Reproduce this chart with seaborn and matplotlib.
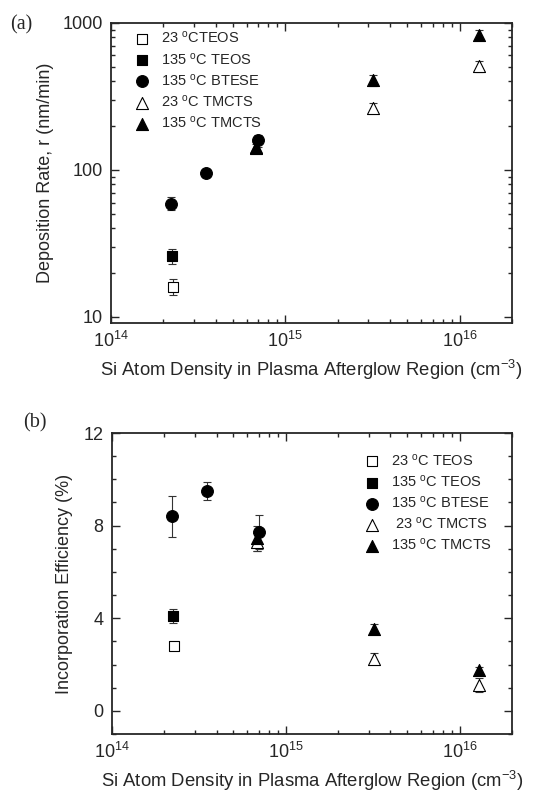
import numpy as np
import pandas as pd
import seaborn as sns
import matplotlib.pyplot as plt
from matplotlib.ticker import FixedLocator, MultipleLocator, FixedFormatter

# ---- data ----
series = ["23C TEOS", "135C TEOS", "135C BTESE", "23C TMCTS", "135C TMCTS"]
labels_a = ["23 $^\\mathregular{o}$CTEOS", "135 $^\\mathregular{o}$C TEOS", "135 $^\\mathregular{o}$C BTESE",
            "23 $^\\mathregular{o}$C TMCTS", "135 $^\\mathregular{o}$C TMCTS"]
labels_b = ["23 $^\\mathregular{o}$C TEOS", "135 $^\\mathregular{o}$C TEOS", "135 $^\\mathregular{o}$C BTESE",
            " 23 $^\\mathregular{o}$C TMCTS", "135 $^\\mathregular{o}$C TMCTS"]

teos23_x = [2.27e14]
teos135_x = [2.25e14]
btese_x = [2.2e14, 3.5e14, 7.0e14]
tmcts23_x = [6.8e14, 3.2e15, 1.3e16]
tmcts135_x = [6.8e14, 3.2e15, 1.3e16]

# (a) deposition rate, nm/min
rate_teos23 = [16]
rate_teos23_err = [2]
rate_teos135 = [26]
rate_teos135_err = [3]
rate_btese = [59, 95, 159]
rate_btese_err = [6, 6, 15]
rate_tmcts23 = [140, 265, 505]
rate_tmcts23_err = [10, 22, 45]
rate_tmcts135 = [144, 410, 828]
rate_tmcts135_err = [12, 35, 60]

# (b) incorporation efficiency, %
eff_teos23 = [2.8]
eff_teos23_err = [0.1]
eff_teos135 = [4.1]
eff_teos135_err = [0.3]
eff_btese = [8.4, 9.5, 7.72]
eff_btese_err = [0.9, 0.4, 0.75]
eff_tmcts23 = [7.3, 2.26, 1.12]
eff_tmcts23_err = [0.4, 0.25, 0.3]
eff_tmcts135 = [7.45, 3.55, 1.75]
eff_tmcts135_err = [0.55, 0.2, 0.15]

styles = {
    "23C TEOS": dict(marker="s", face="white", size=45),
    "135C TEOS": dict(marker="s", face="black", size=45),
    "135C BTESE": dict(marker="o", face="black", size=72),
    "23C TMCTS": dict(marker="^", face="white", size=75),
    "135C TMCTS": dict(marker="^", face="black", size=75),
}

xs = [teos23_x, teos135_x, btese_x, tmcts23_x, tmcts135_x]
rates = [rate_teos23, rate_teos135, rate_btese, rate_tmcts23, rate_tmcts135]
rate_errs = [rate_teos23_err, rate_teos135_err, rate_btese_err, rate_tmcts23_err, rate_tmcts135_err]
effs = [eff_teos23, eff_teos135, eff_btese, eff_tmcts23, eff_tmcts135]
eff_errs = [eff_teos23_err, eff_teos135_err, eff_btese_err, eff_tmcts23_err, eff_tmcts135_err]

sns.set_style("ticks")
plt.rcParams["font.family"] = ["Liberation Sans", "DejaVu Sans"]
plt.rcParams["mathtext.fontset"] = "custom"
plt.rcParams["mathtext.rm"] = "Liberation Sans"
plt.rcParams["mathtext.it"] = "Liberation Sans:italic"
plt.rcParams["xtick.direction"] = "in"
plt.rcParams["ytick.direction"] = "in"

fig = plt.figure(figsize=(5.35, 7.94), dpi=100)
ax_a = fig.add_axes([0.2075, 0.5932, 0.7495, 0.378])
ax_b = fig.add_axes([0.2093, 0.0756, 0.7477, 0.379])


def draw(ax, yvals, yerrs, labels):
    for name, x, y, e, lab in zip(series, xs, yvals, yerrs, labels):
        st = styles[name]
        df = pd.DataFrame({"x": x, "y": y})
        ax.errorbar(x, y, yerr=e, fmt="none", ecolor="#333333", elinewidth=0.8,
                    capsize=3, capthick=0.8, zorder=1)
        sns.scatterplot(data=df, x="x", y="y", ax=ax, marker=st["marker"], s=st["size"],
                        facecolor=st["face"], edgecolor="black", linewidth=0.8,
                        label=lab, zorder=3)


def style_axes(ax):
    ax.set_xscale("log")
    ax.set_xlim(1e14, 2e16)
    ax.tick_params(which="both", top=True, right=True, labelsize=13, width=1, pad=6)
    ax.tick_params(which="major", length=6)
    ax.tick_params(which="minor", length=3)
    for sp in ax.spines.values():
        sp.set_linewidth(1.3)
    ax.set_xlabel("Si Atom Density in Plasma Afterglow Region (cm$^\\mathregular{-3}$)", fontsize=13.3, labelpad=5)


draw(ax_a, rates, rate_errs, labels_a)
style_axes(ax_a)
ax_a.set_yscale("log")
ax_a.set_ylim(9.1, 1000)
ax_a.yaxis.set_major_locator(FixedLocator([10, 100, 1000]))
ax_a.yaxis.set_major_formatter(FixedFormatter(["10", "100", "1000"]))
ax_a.set_ylabel("Deposition Rate, r (nm/min)", fontsize=13, labelpad=6)
ax_a.legend(loc="upper left", frameon=False, fontsize=10.5, handletextpad=0.3,
            labelspacing=0.35, borderaxespad=0.3, bbox_to_anchor=(0.015, 1.01))

draw(ax_b, effs, eff_errs, labels_b)
style_axes(ax_b)
ax_b.set_ylim(-1, 12)
ax_b.yaxis.set_major_locator(MultipleLocator(4))
ax_b.yaxis.set_minor_locator(MultipleLocator(1))
ax_b.set_ylabel("Incorporation Efficiency (%)", fontsize=13, labelpad=8)
ax_b.legend(loc="upper right", frameon=False, fontsize=10.5, handletextpad=0.3,
            labelspacing=0.35, borderaxespad=0.3, bbox_to_anchor=(0.975, 0.97))

fig.text(0.018, 0.963, "(a)", fontsize=14.5, family=["Liberation Serif", "DejaVu Serif"])
fig.text(0.043, 0.462, "(b)", fontsize=14.5, family=["Liberation Serif", "DejaVu Serif"])

fig.savefig("out.png", dpi=100)
